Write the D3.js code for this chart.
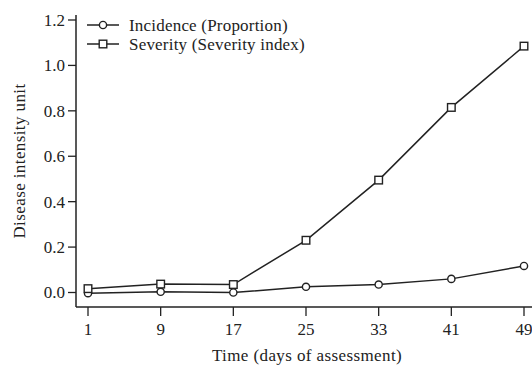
<!DOCTYPE html>
<html>
<head>
<meta charset="utf-8">
<script src="https://cdn.jsdelivr.net/npm/d3@7"></script>
<style>
  body { margin: 0; background: #fff; }
  svg text { font-family: "Liberation Serif", "Times New Roman", serif; fill: #222; }
</style>
</head>
<body>
<svg id="chart" width="532" height="366"></svg>
<script>
// data
var days = [1, 9, 17, 25, 33, 41, 49];
var incidence = [-0.003, 0.003, 0.0, 0.025, 0.035, 0.06, 0.117];
var severity = [0.017, 0.037, 0.035, 0.23, 0.495, 0.815, 1.085];
var yTicks = [0.0, 0.2, 0.4, 0.6, 0.8, 1.0, 1.2];
var seriesNames = ["Incidence (Proportion)", "Severity (Severity index)"];

var svg = d3.select("#chart");
var axisX = 76, axisY = 307;

var x = d3.scaleLinear().domain([1, 49]).range([88, 524]);
var y = d3.scaleLinear().domain([0, 1.2]).range([292.5, 20]);

var ink = "#222";

// y axis
var yAxis = svg.append("g").attr("transform", "translate(" + axisX + ",0)");
yAxis.append("line")
  .attr("x1", 0).attr("x2", 0)
  .attr("y1", 15).attr("y2", axisY)
  .attr("stroke", ink).attr("stroke-width", 1.5);
yTicks.forEach(function (t) {
  yAxis.append("line")
    .attr("x1", -8).attr("x2", 0)
    .attr("y1", y(t)).attr("y2", y(t))
    .attr("stroke", ink).attr("stroke-width", 1.3);
  yAxis.append("text")
    .attr("x", -11).attr("y", y(t))
    .attr("dy", "0.35em")
    .attr("text-anchor", "end")
    .style("font-size", "17px")
    .text(d3.format(".1f")(t));
});

// x axis
var xAxis = svg.append("g").attr("transform", "translate(0," + axisY + ")");
xAxis.append("line")
  .attr("x1", axisX).attr("x2", 532)
  .attr("y1", 0).attr("y2", 0)
  .attr("stroke", ink).attr("stroke-width", 1.5);
days.forEach(function (d) {
  xAxis.append("line")
    .attr("x1", x(d)).attr("x2", x(d))
    .attr("y1", 0).attr("y2", 9)
    .attr("stroke", ink).attr("stroke-width", 1.3);
  xAxis.append("text")
    .attr("x", x(d)).attr("y", 28)
    .attr("text-anchor", "middle")
    .style("font-size", "17px")
    .text(d);
});

// titles
svg.append("text")
  .attr("x", 307).attr("y", 361)
  .attr("text-anchor", "middle")
  .style("font-size", "17px")
  .style("letter-spacing", "0.4px")
  .text("Time (days of assessment)");

svg.append("text")
  .attr("transform", "translate(25,161) rotate(-90)")
  .attr("text-anchor", "middle")
  .style("font-size", "17px")
  .style("letter-spacing", "0.4px")
  .text("Disease intensity unit");

var line = d3.line()
  .x(function (d, i) { return x(days[i]); })
  .y(function (d) { return y(d); });

function drawSeries(vals, shape) {
  svg.append("path")
    .datum(vals)
    .attr("d", line)
    .attr("fill", "none")
    .attr("stroke", ink)
    .attr("stroke-width", 1.5);
  vals.forEach(function (v, i) {
    drawMarker(x(days[i]), y(v), shape);
  });
}

function drawMarker(cx, cy, shape) {
  if (shape == "circle") {
    svg.append("circle")
      .attr("cx", cx).attr("cy", cy).attr("r", 3.6)
      .attr("fill", "#fff").attr("stroke", ink).attr("stroke-width", 1.4);
  } else {
    svg.append("rect")
      .attr("x", cx - 3.8).attr("y", cy - 3.8)
      .attr("width", 7.6).attr("height", 7.6)
      .attr("fill", "#fff").attr("stroke", ink).attr("stroke-width", 1.4);
  }
}

drawSeries(incidence, "circle");
drawSeries(severity, "square");

// legend
var shapes = ["circle", "square"];
seriesNames.forEach(function (name, i) {
  var ly = 25 + i * 19;
  svg.append("line")
    .attr("x1", 87).attr("x2", 119)
    .attr("y1", ly).attr("y2", ly)
    .attr("stroke", ink).attr("stroke-width", 1.5);
  drawMarker(103, ly, shapes[i]);
  svg.append("text")
    .attr("x", 129).attr("y", ly)
    .attr("dy", "0.35em")
    .style("font-size", "17px")
    .style("letter-spacing", "0.2px")
    .text(name);
});
</script>
</body>
</html>
